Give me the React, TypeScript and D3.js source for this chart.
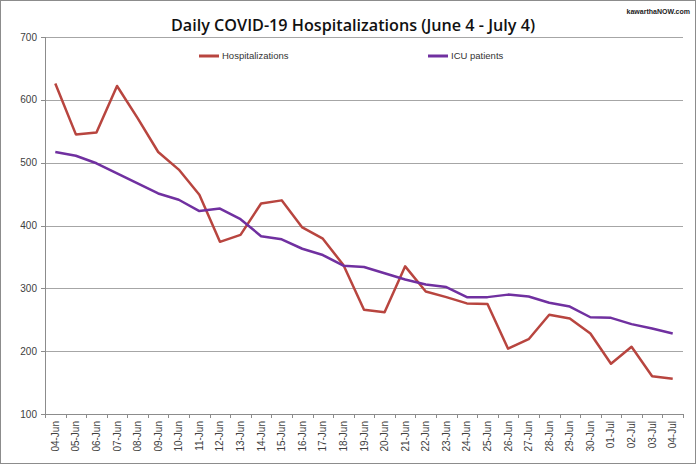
import React from 'react';
import * as d3 from 'd3';

const dates = [
  '04-Jun', '05-Jun', '06-Jun', '07-Jun', '08-Jun', '09-Jun', '10-Jun', '11-Jun', '12-Jun', '13-Jun',
  '14-Jun', '15-Jun', '16-Jun', '17-Jun', '18-Jun', '19-Jun', '20-Jun', '21-Jun', '22-Jun', '23-Jun',
  '24-Jun', '25-Jun', '26-Jun', '27-Jun', '28-Jun', '29-Jun', '30-Jun', '01-Jul', '02-Jul', '03-Jul', '04-Jul',
];

const hospitalizations = [
  626, 545, 548, 622, 571, 517, 489, 449, 374, 385,
  435, 440, 397, 379, 337, 266, 262, 335, 295, 286,
  276, 275, 204, 219, 258, 252, 228, 180, 207, 160, 156,
];

const icuPatients = [
  517, 511, 499, 483, 467, 451, 441, 423, 427, 410,
  383, 378, 363, 353, 336, 334, 324, 314, 306, 302,
  286, 286, 290, 287, 277, 271, 254, 253, 243, 236, 228,
];

const yTicks = [100, 200, 300, 400, 500, 600, 700];

const W = 696;
const H = 464;
const margin = { top: 37, right: 13, bottom: 50, left: 45 };
const FONT = "'Liberation Sans', Arial, sans-serif";
const TITLE_FONT = "'Open Sans', 'Noto Sans', 'Liberation Sans', sans-serif";

export default function App() {
  const x = d3.scaleBand<string>()
    .domain(dates)
    .range([margin.left, W - margin.right])
    .padding(0);
  const y = d3.scaleLinear().domain([100, 700]).range([H - margin.bottom, margin.top]);
  const cx = (d: string) => (x(d) ?? 0) + x.bandwidth() / 2;

  const line = d3.line<number>()
    .x((_, i) => cx(dates[i]))
    .y(v => y(v));

  const series = [
    { name: 'Hospitalizations', values: hospitalizations, color: '#b8453f', lx: 199 },
    { name: 'ICU patients', values: icuPatients, color: '#7030a0', lx: 428 },
  ];

  const x0 = margin.left;
  const x1 = W - margin.right;
  const yBottom = y(100);

  // boundaries between categories for tick marks
  const bounds = dates.map(d => x(d) ?? 0).concat([x1]);

  return (
    <svg width={W} height={H} style={{ position: 'absolute', left: 0, top: 0, background: '#fff' }}>
      <rect x={0.5} y={0.5} width={W - 1} height={H - 1} fill="#fff" stroke="#8c8c8c" />

      <text x={690} y={14} textAnchor="end" fontFamily={FONT} fontWeight="bold" fontSize={7} fill="#222">
        kawarthaNOW.com
      </text>

      <text x={353} y={31} textAnchor="middle" fontFamily={TITLE_FONT} fontWeight={600} fontSize={17} fill="#111"
        textLength={364} lengthAdjust="spacingAndGlyphs">
        Daily COVID-19 Hospitalizations (June 4 - July 4)
      </text>

      {/* gridlines */}
      {yTicks.map(t => (
        <g key={t}>
          {t !== 100 && (
            <line x1={x0} x2={x1} y1={Math.round(y(t)) + 0.5} y2={Math.round(y(t)) + 0.5} stroke="#a6a6a6" />
          )}
          <line x1={x0 - 4} x2={x0} y1={Math.round(y(t)) + 0.5} y2={Math.round(y(t)) + 0.5} stroke="#8c8c8c" />
          <text x={37} y={y(t) + 3.5} textAnchor="end" fontFamily={FONT} fontSize={10} fill="#404040">{t}</text>
        </g>
      ))}

      {/* axes */}
      <line x1={x0 + 0.5} x2={x0 + 0.5} y1={margin.top} y2={yBottom} stroke="#8c8c8c" />
      <line x1={x0} x2={x1} y1={Math.round(yBottom) + 0.5} y2={Math.round(yBottom) + 0.5} stroke="#8c8c8c" />
      {bounds.map((b, i) => (
        <line key={i} x1={Math.round(b) + 0.5} x2={Math.round(b) + 0.5} y1={yBottom} y2={yBottom + 4} stroke="#8c8c8c" />
      ))}
      {dates.map(d => (
        <text key={d} transform={`translate(${cx(d) + 3.5},${yBottom + 7}) rotate(-90)`} textAnchor="end"
          fontFamily={FONT} fontSize={10} fill="#404040">{d}</text>
      ))}

      {/* series */}
      {series.map(s => (
        <path key={s.name} d={line(s.values) ?? ''} fill="none" stroke={s.color} strokeWidth={2.5}
          strokeLinejoin="round" />
      ))}

      {/* legend */}
      {series.map(s => (
        <g key={s.name + '-legend'}>
          <line x1={s.lx} x2={s.lx + 20} y1={56} y2={56} stroke={s.color} strokeWidth={3} />
          <text x={s.lx + 23} y={59} fontFamily={FONT} fontSize={9.5} fill="#333">{s.name}</text>
        </g>
      ))}
    </svg>
  );
}
